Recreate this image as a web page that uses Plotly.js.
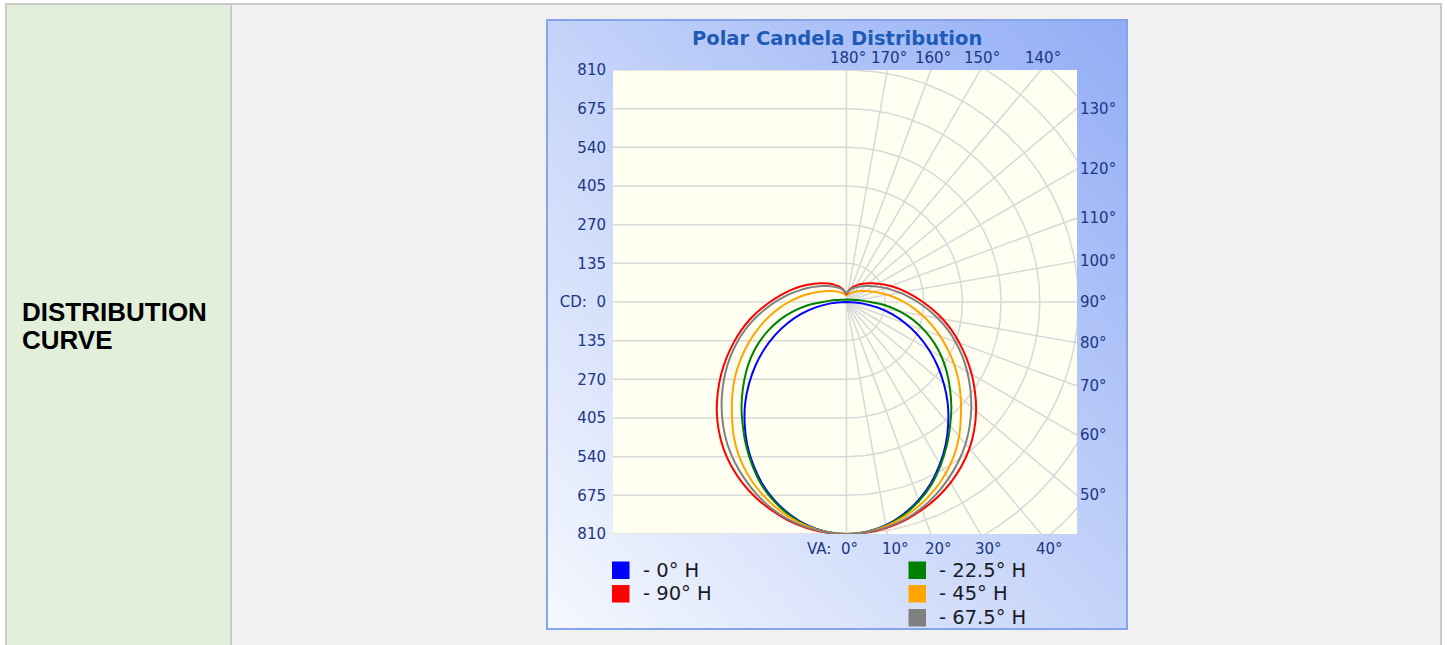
<!DOCTYPE html>
<html><head><meta charset="utf-8">
<script src="https://cdn.plot.ly/plotly-3.0.1.min.js"></script>
<style>
html,body{margin:0;padding:0;background:#fff;width:1447px;height:645px;overflow:hidden;font-family:"Liberation Sans",Arial,sans-serif;}
.abs{position:absolute;}
#topb{left:5px;top:3px;width:1437px;height:2px;background:#c9c9c9;}
#leftb{left:5px;top:3px;width:2px;height:642px;background:#c9c9c9;}
#cellL{left:7px;top:5px;width:223px;height:640px;background:#e2efda;}
#divb{left:230px;top:5px;width:2px;height:640px;background:#c9c9c9;}
#cellR{left:232px;top:5px;width:1208px;height:640px;background:#f1f1f1;}
#rightb{left:1440px;top:3px;width:2px;height:642px;background:#c9c9c9;}
#label{left:22px;top:298px;font-weight:bold;font-size:26px;line-height:28.4px;color:#000;}
#box{left:546px;top:19px;width:582px;height:611px;box-sizing:border-box;border:2px solid #86a4ee;background:linear-gradient(to top right,#f5f8fe 0%,#c4d3f9 50%,#92adf5 100%);}
#chart{left:0;top:0;width:578px;height:607px;}
</style></head>
<body>
<div class="abs" id="topb"></div>
<div class="abs" id="leftb"></div>
<div class="abs" id="cellL"></div>
<div class="abs" id="divb"></div>
<div class="abs" id="cellR"></div>
<div class="abs" id="rightb"></div>
<div class="abs" id="label">DISTRIBUTION<br>CURVE</div>
<div class="abs" id="box"><div class="abs" id="chart"></div></div>
<script>
// ---- data (vertical angle in degrees, candela) ----
const angles = [0,5,10,15,20,25,30,35,40,45,50,55,60,65,70,75,80,85,90,95,100,105,110,115,120,125,130,135,140,145,150,155,160,165,170,175,180];
const cd_0H    = [810,805,791,767,736,698,653,605,553,500,444,388,332,276,220,165,109,55,0,0,0,0,0,0,0,0,0,0,0,0,0,0,0,0,0,0,0];
const cd_22_5H = [810,806,793,770,740,703,658,611,563,518,472,428,384,338,290,241,189,138,84,55,38,28,22,18,15,13,12,11,10,10,10,9,9,9,9,9,9];
const cd_45H   = [810,806,795,777,753,725,692,655,612,565,521,478,434,390,348,308,270,234,201,171,145,122,104,88,76,67,59,53,47,42,38,35,32,29,26,24,23];
const cd_67_5H = [811,807,799,786,766,741,712,681,647,609,569,528,487,446,405,364,323,284,249,217,189,164,143,125,110,97,87,78,70,64,58,53,48,43,38,33,29];
const cd_90H   = [812,808,801,789,772,752,728,700,668,631,591,548,505,462,420,380,341,302,267,236,209,185,164,145,128,114,102,91,82,74,66,59,52,45,38,32,27];
const seriesNames = ["- 0° H","- 90° H","- 22.5° H","- 45° H","- 67.5° H"];
const seriesData = [cd_0H, cd_90H, cd_22_5H, cd_45H, cd_67_5H];
const seriesColors = ["#0000ff","#ff0000","#008000","#ffa500","#808080"];

const yTickVals = [810,675,540,405,270,135,0,-135,-270,-405,-540,-675,-810];
const yTickText = ["810","675","540","405","270","135","CD:\u00a0 0","135","270","405","540","675","810"];
const circleRadii = [135,270,405,540,675,810,945,1080];
const radialAngles = [0,10,20,30,40,50,60,70,80,90,100,110,120,130,140,150,160,170,180];
const bottomLabelAngles = [0,10,20,30,40];
const rightLabelAngles = [50,60,70,80,90,100,110,120,130];
const topLabelAngles = [140,150,160,170,180];
const chartTitle = "Polar Candela Distribution";

// ---- geometry ----
const X0=-815, X1=805, Y0=-810, Y1=810;
const rad = d => d*Math.PI/180;
const xp = x => (x-X0)/(X1-X0);
const yp = y => (y-Y0)/(Y1-Y0);
const gridColor = "#d8d8d8";
const traces = [];

// left horizontal grid
{ const gx=[], gy=[]; yTickVals.forEach(v=>{gx.push(X0,0,null); gy.push(v,v,null);});
  traces.push({x:gx,y:gy,mode:"lines",line:{color:gridColor,width:1.5},hoverinfo:"skip",showlegend:false}); }
// polar circles (right half)
{ const gx=[], gy=[]; circleRadii.forEach(r=>{ for(let a=0;a<=180;a+=1){gx.push(r*Math.sin(rad(a))); gy.push(-r*Math.cos(rad(a)));} gx.push(null); gy.push(null);});
  traces.push({x:gx,y:gy,mode:"lines",line:{color:gridColor,width:1.5},hoverinfo:"skip",showlegend:false}); }
// radial lines
{ const gx=[], gy=[]; const R=1300; radialAngles.forEach(a=>{gx.push(0,R*Math.sin(rad(a)),null); gy.push(0,-R*Math.cos(rad(a)),null);});
  traces.push({x:gx,y:gy,mode:"lines",line:{color:gridColor,width:1.5},hoverinfo:"skip",showlegend:false}); }

// curves (left half mirrored, right half)
const drawOrder=[0,2,3,1,4];
drawOrder.forEach(si=>{
  const I=seriesData[si]; const x=[], y=[];
  for(let i=angles.length-1;i>=0;i--){x.push(-I[i]*Math.sin(rad(angles[i]))); y.push(-I[i]*Math.cos(rad(angles[i])));}
  for(let i=1;i<angles.length;i++){x.push(I[i]*Math.sin(rad(angles[i]))); y.push(-I[i]*Math.cos(rad(angles[i])));}
  traces.push({x:x,y:y,mode:"lines",name:seriesNames[si],line:{color:seriesColors[si],width:2,shape:"spline",smoothing:1},hoverinfo:"skip",showlegend:false});
});

const labFont={family:"DejaVu Sans, sans-serif",size:15,color:"#1b3784"};
const ann=[];
bottomLabelAngles.forEach(a=>{
  const x=810*Math.tan(rad(a));
  if(a===0){ ann.push({xref:"paper",yref:"paper",x:xp(0),y:0,text:"VA:\u00a0 0°",showarrow:false,xanchor:"right",yanchor:"middle",xshift:14,yshift:-15,font:labFont}); }
  else ann.push({xref:"paper",yref:"paper",x:xp(x),y:0,text:a+"°",showarrow:false,xanchor:"center",yanchor:"middle",xshift:8,yshift:-15,font:labFont});
});
rightLabelAngles.forEach(a=>{
  const y=-X1/Math.tan(rad(a));
  ann.push({xref:"paper",yref:"paper",x:1,y:yp(Math.abs(a-90)<1e-9?0:y),text:a+"°",showarrow:false,xanchor:"left",yanchor:"middle",xshift:1,font:labFont});
});
topLabelAngles.forEach(a=>{
  const x=810*Math.tan(rad(180-a));
  ann.push({xref:"paper",yref:"paper",x:xp(x),y:1,text:a+"°",showarrow:false,xanchor:"center",yanchor:"middle",xshift:2,yshift:12,font:labFont});
});

// page-pixel helpers (plot area: x 613..1077, y 69.5..533.5)
const pxX = px => (px-613)/464;
const pxY = py => (533.5-py)/464;
// title
ann.push({xref:"paper",yref:"paper",x:pxX(837),y:pxY(37.5),text:chartTitle,showarrow:false,xanchor:"center",yanchor:"middle",font:{family:"DejaVu Sans, sans-serif",size:19.5,color:"#1e5bb6",weight:"bold"}});

// legend (custom, two columns)
const legPos=[[612,561,641],[612,584.5,641],[908.5,561,937],[908.5,584.5,937],[908.5,608.5,937]];
const shapes=[];
seriesNames.forEach((n,i)=>{
  const [sx,sy,tx]=legPos[i];
  shapes.push({type:"rect",xref:"paper",yref:"paper",x0:pxX(sx),x1:pxX(sx+17.5),y0:pxY(sy+17.5),y1:pxY(sy),fillcolor:seriesColors[i],line:{width:0}});
  ann.push({xref:"paper",yref:"paper",x:pxX(tx),y:pxY(sy+8.8),text:n,showarrow:false,xanchor:"left",yanchor:"middle",font:{family:"DejaVu Sans, sans-serif",size:19.5,color:"#1a1a24"}});
});

const layout={
  width:578,height:607,
  margin:{l:65,r:49,t:49,b:94,pad:0},
  paper_bgcolor:"rgba(0,0,0,0)",plot_bgcolor:"#fefef1",
  xaxis:{range:[X0,X1],visible:false,fixedrange:true},
  yaxis:{range:[Y0,Y1],showgrid:false,zeroline:false,showline:false,tickmode:"array",tickvals:yTickVals,ticktext:yTickText,ticks:"outside",ticklen:3,tickcolor:"rgba(0,0,0,0)",tickfont:labFont,fixedrange:true},
  annotations:ann,shapes:shapes,showlegend:false
};
Plotly.newPlot("chart",traces,layout,{staticPlot:true,displayModeBar:false});
</script>
</body></html>
